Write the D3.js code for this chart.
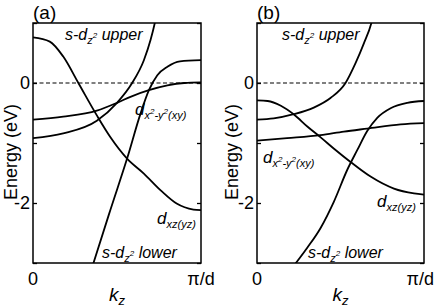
<!DOCTYPE html>
<html><head><meta charset="utf-8">
<script src="https://cdn.jsdelivr.net/npm/d3@7"></script>
<style>
body{margin:0;background:#fff}
svg{display:block;font-family:"Liberation Sans",Arial,sans-serif}
</style></head><body>
<svg id="chart" width="435" height="308"></svg>
<script>
// k in units of pi/d, E in eV
// panel (a)
var a_k_upper = [0, 0.18, 0.38, 0.5, 0.59, 0.66, 0.70, 0.725, 0.75];
var a_e_upper = [-0.92, -0.84, -0.63, -0.33, 0, 0.38, 0.72, 1.0, 1.35];
var a_k_xy = [0, 0.18, 0.38, 0.5, 0.58, 0.69, 0.8, 0.9, 1];
var a_e_xy = [-0.61, -0.56, -0.46, -0.33, -0.23, -0.12, -0.04, 0, 0.01];
var a_k_xz = [0, 0.1, 0.18, 0.27, 0.38, 0.46, 0.56, 0.66, 0.76, 0.855, 0.955, 1];
var a_e_xz = [0.76, 0.69, 0.44, 0, -0.54, -0.9, -1.26, -1.51, -1.79, -2.01, -2.11, -2.12];
var a_k_lower = [0.3, 0.36, 0.46, 0.56, 0.64, 0.69, 0.74, 0.8, 0.875, 1];
var a_e_lower = [-3.55, -3.0, -2.12, -1.26, -0.51, -0.12, 0.13, 0.27, 0.36, 0.38];
// panel (b)
var b_k_upper = [0, 0.1, 0.22, 0.34, 0.44, 0.53, 0.59, 0.64, 0.685, 0.71];
var b_e_upper = [-0.61, -0.59, -0.52, -0.41, -0.25, 0, 0.33, 0.66, 1.0, 1.3];
var b_k_xy = [0, 0.18, 0.38, 0.52, 0.66, 0.86, 1];
var b_e_xy = [-0.96, -0.92, -0.87, -0.81, -0.76, -0.69, -0.67];
var b_k_xz = [0, 0.064, 0.143, 0.223, 0.303, 0.383, 0.463, 0.562, 0.68, 0.82, 0.94, 1];
var b_e_xz = [-0.29, -0.30, -0.38, -0.53, -0.73, -0.91, -1.10, -1.32, -1.56, -1.76, -1.84, -1.86];
var b_k_lower = [0.18, 0.233, 0.30, 0.38, 0.46, 0.54, 0.60, 0.66, 0.72, 0.80, 0.90, 1.0];
var b_e_lower = [-3.2, -3.0, -2.75, -2.42, -1.98, -1.45, -1.12, -0.80, -0.58, -0.42, -0.33, -0.30];

var yTicks = [1, 0, -1, -2, -3];
var yLabels = {"0": "0", "-2": "-2"};

var svg = d3.select("#chart");
var top_ = 23, bottom_ = 263;

function zip(k, e) { return k.map(function(v, i) { return {k: v, e: e[i]}; }); }

// label pieces: [text, size, dy]
function richText(g, x, y, parts, size) {
  var t = g.append("text").attr("x", x).attr("y", y)
    .attr("font-style", "italic").attr("font-size", size);
  parts.forEach(function(p) {
    t.append("tspan").attr("font-size", p[1]).attr("dy", p[2]).text(p[0]);
  });
  return t;
}
function sdz(word) {
  return [["s-d", 16, 0], ["z", 11, 4], ["2", 8, -6], [" " + word, 16, 2]];
}
var xyParts = [["d", 17, 0], ["x", 11, 4], ["2", 8, -5], ["-y", 11, 5], ["2", 8, -5], ["(xy)", 11, 5]];
var xzParts = [["d", 17, 0], ["xz(yz)", 11, 4]];

function panel(id, x0, x1, curves, labels, tag, eX, piX, piAnchor) {
  var x = d3.scaleLinear().domain([0, 1]).range([x0, x1]);
  var y = d3.scaleLinear().domain([1, -3]).range([top_, bottom_]);
  var g = svg.append("g");

  g.append("clipPath").attr("id", "clip" + id)
    .append("rect").attr("x", x0).attr("y", top_).attr("width", x1 - x0).attr("height", bottom_ - top_);

  // Fermi level
  g.append("line").attr("x1", x0).attr("x2", x1).attr("y1", y(0)).attr("y2", y(0))
    .attr("stroke", "#000").attr("stroke-width", 1.1).attr("stroke-dasharray", "4,2.5");

  var line = d3.line().x(function(d) { return x(d.k); }).y(function(d) { return y(d.e); })
    .curve(d3.curveMonotoneX);
  g.append("g").attr("clip-path", "url(#clip" + id + ")")
    .selectAll("path").data(curves).enter().append("path")
    .attr("d", line).attr("fill", "none").attr("stroke", "#000").attr("stroke-width", 1.8);

  // axes, ticks inward
  var left = d3.axisLeft(y).tickValues(yTicks).tickSize(-4).tickPadding(3)
    .tickFormat(function(d) { return yLabels[d] || ""; });
  var right = d3.axisRight(y).tickValues(yTicks).tickSize(-4).tickFormat("");
  var gl = g.append("g").attr("transform", "translate(" + x0 + ",0)").call(left);
  var gr = g.append("g").attr("transform", "translate(" + x1 + ",0)").call(right);
  [gl, gr].forEach(function(a) {
    a.select(".domain").remove();
    a.selectAll("line").attr("stroke-width", 1.3);
    a.selectAll("text").attr("font-size", 18).attr("font-family", "Liberation Sans, Arial, sans-serif").attr("fill", "#000");
  });

  g.append("rect").attr("x", x0).attr("y", top_).attr("width", x1 - x0).attr("height", bottom_ - top_)
    .attr("fill", "none").attr("stroke", "#000").attr("stroke-width", 1.5);

  // x labels
  g.append("text").attr("x", x0).attr("y", 285).attr("text-anchor", "middle").attr("font-size", 18).text("0");
  g.append("text").attr("x", piX).attr("y", 285).attr("text-anchor", piAnchor).attr("font-size", 18).text("\u03c0/d");
  var kz = g.append("text").attr("x", (x0 + x1) / 2).attr("y", 301).attr("text-anchor", "middle")
    .attr("font-style", "italic").attr("font-size", 19);
  kz.append("tspan").text("k");
  kz.append("tspan").attr("font-size", 13).attr("dy", 4).text("z");

  g.append("text").attr("transform", "translate(" + eX + ",152) rotate(-90)")
    .attr("text-anchor", "middle").attr("font-size", 18).text("Energy (eV)");

  g.append("text").attr("x", x0).attr("y", 19).attr("font-size", 19).text(tag);

  labels.forEach(function(l) { richText(g, l[0], l[1], l[2], 16); });
}

panel("a", 33, 201,
  [zip(a_k_upper, a_e_upper), zip(a_k_xy, a_e_xy), zip(a_k_xz, a_e_xz), zip(a_k_lower, a_e_lower)],
  [[65, 40, sdz("upper")], [135, 115, xyParts], [157, 224, xzParts], [102, 258, sdz("lower")]],
  "(a)", 17, 201, "middle");
panel("b", 257, 424,
  [zip(b_k_upper, b_e_upper), zip(b_k_xy, b_e_xy), zip(b_k_xz, b_e_xz), zip(b_k_lower, b_e_lower)],
  [[282, 40, sdz("upper")], [263, 163, xyParts], [377, 207, xzParts], [308, 258, sdz("lower")]],
  "(b)", 238, 434, "end");
</script>
</body></html>
